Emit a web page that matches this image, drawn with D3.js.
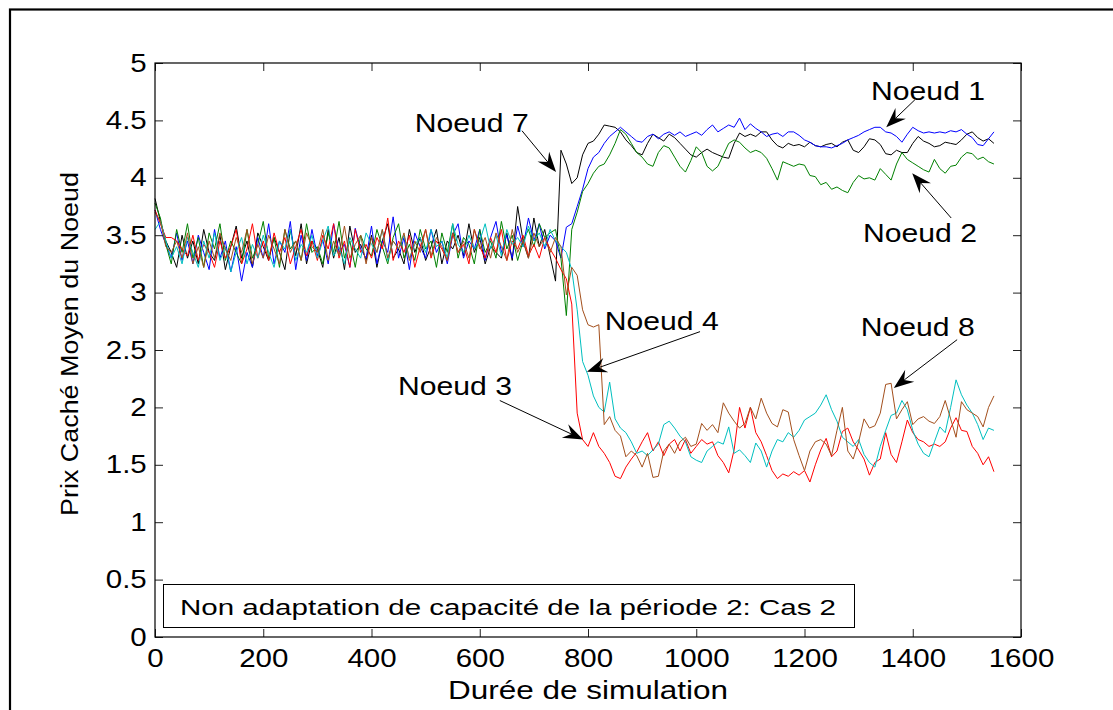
<!DOCTYPE html>
<html><head><meta charset="utf-8">
<script src="https://cdn.jsdelivr.net/npm/d3@7"></script>
<style>body{margin:0;background:#fff} text{font-family:"Liberation Sans",Arial,Helvetica,sans-serif}</style>
</head><body><svg id="c" width="1113" height="710"></svg>
<script>
// sampling step of the simulation time axis
const xStep = 10;

const noeud1 = [
3.72,3.55,3.42,3.30,3.52,3.28,3.45,3.25,3.50,3.35,
3.20,3.55,3.30,3.45,3.18,3.40,3.10,3.35,3.22,3.48,
3.30,3.60,3.25,3.45,3.35,3.62,3.20,3.50,3.28,3.55,
3.32,3.46,3.25,3.60,3.35,3.42,3.22,3.56,3.38,3.30,
3.58,3.25,3.45,3.35,3.66,3.30,3.48,3.20,3.52,3.40,
3.30,3.55,3.35,3.45,3.25,3.50,3.60,3.30,3.45,3.38,
3.55,3.28,3.48,3.62,3.35,3.50,3.30,3.58,3.40,3.65,
3.45,3.60,3.38,3.50,3.45,3.30,3.57,3.60,3.75,3.90,
4.08,4.18,4.22,4.30,4.36,4.40,4.44,4.40,4.36,4.32,
4.31,4.36,4.38,4.34,4.38,4.40,4.37,4.40,4.36,4.38,
4.40,4.37,4.42,4.46,4.40,4.43,4.46,4.44,4.52,4.42,
4.47,4.43,4.40,4.36,4.38,4.39,4.36,4.40,4.40,4.37,
4.33,4.31,4.28,4.27,4.27,4.26,4.28,4.30,4.33,4.35,
4.37,4.40,4.42,4.44,4.44,4.40,4.39,4.36,4.31,4.38,
4.44,4.41,4.39,4.40,4.39,4.40,4.39,4.41,4.40,4.42,
4.38,4.35,4.29,4.28,4.34,4.40];

const noeud7 = [
3.82,3.62,3.45,3.35,3.22,3.50,3.30,3.45,3.25,3.55,
3.35,3.28,3.50,3.20,3.40,3.58,3.30,3.45,3.22,3.52,
3.40,3.28,3.48,3.35,3.20,3.55,3.32,3.60,3.25,3.45,
3.38,3.22,3.55,3.30,3.48,3.20,3.58,3.35,3.42,3.28,
3.50,3.22,3.45,3.60,3.30,3.38,3.25,3.55,3.35,3.48,
3.28,3.40,3.55,3.25,3.45,3.38,3.50,3.32,3.60,3.35,
3.48,3.25,3.40,3.35,3.30,3.52,3.28,3.75,3.45,3.30,
3.65,3.40,3.55,3.32,3.10,4.24,4.12,3.95,4.00,4.20,
4.30,4.32,4.38,4.46,4.45,4.44,4.40,4.33,4.28,4.22,
4.20,4.30,4.38,4.35,4.32,4.38,4.35,4.30,4.25,4.20,
4.18,4.22,4.25,4.22,4.20,4.18,4.17,4.30,4.39,4.36,
4.38,4.36,4.40,4.40,4.33,4.28,4.26,4.30,4.28,4.29,
4.27,4.31,4.28,4.27,4.29,4.30,4.27,4.31,4.33,4.24,
4.22,4.27,4.34,4.33,4.29,4.21,4.20,4.24,4.22,4.22,
4.30,4.36,4.32,4.30,4.27,4.28,4.31,4.30,4.29,4.33,
4.38,4.40,4.35,4.32,4.34,4.30];

const noeud2 = [
3.78,3.65,3.42,3.25,3.55,3.35,3.60,3.30,3.48,3.22,
3.52,3.38,3.60,3.28,3.45,3.35,3.25,3.55,3.30,3.42,
3.62,3.30,3.48,3.22,3.55,3.38,3.45,3.28,3.60,3.35,
3.40,3.25,3.52,3.35,3.62,3.30,3.45,3.22,3.50,3.38,
3.32,3.55,3.40,3.25,3.48,3.60,3.30,3.42,3.28,3.55,
3.38,3.45,3.22,3.52,3.35,3.60,3.30,3.48,3.42,3.25,
3.55,3.35,3.45,3.30,3.62,3.38,3.50,3.28,3.45,3.55,
3.40,3.60,3.48,3.52,3.55,3.30,2.80,3.55,3.70,3.88,
3.95,4.04,4.10,4.12,4.20,4.30,4.42,4.38,4.30,4.22,
4.18,4.12,4.10,4.22,4.28,4.26,4.18,4.10,4.05,4.15,
4.27,4.22,4.10,4.06,4.10,4.20,4.30,4.33,4.31,4.26,
4.22,4.24,4.22,4.17,4.08,3.98,4.14,4.12,4.10,4.12,
4.11,4.02,4.01,3.94,3.96,3.90,3.92,3.89,3.87,3.96,
4.02,3.99,4.00,3.98,4.08,4.03,3.98,4.12,4.22,4.16,
4.13,4.10,4.07,4.05,4.16,4.08,4.04,4.10,4.11,4.18,
4.22,4.21,4.16,4.18,4.14,4.12];

const noeud3 = [
3.72,3.60,3.48,3.48,3.45,3.38,3.32,3.50,3.28,3.42,
3.35,3.22,3.45,3.30,3.40,3.55,3.25,3.38,3.60,3.30,
3.45,3.28,3.52,3.35,3.48,3.25,3.40,3.55,3.32,3.45,
3.28,3.50,3.38,3.60,3.30,3.45,3.22,3.55,3.35,3.42,
3.30,3.48,3.38,3.65,3.28,3.45,3.35,3.50,3.22,3.40,
3.55,3.30,3.45,3.38,3.28,3.52,3.35,3.42,3.25,3.55,
3.40,3.30,3.48,3.35,3.55,3.28,3.45,3.38,3.50,3.32,
3.42,3.30,3.48,3.38,3.30,3.20,3.12,2.90,1.95,1.72,
1.66,1.78,1.66,1.60,1.52,1.40,1.38,1.48,1.55,1.61,
1.70,1.78,1.62,1.70,1.58,1.68,1.72,1.62,1.72,1.60,
1.66,1.72,1.68,1.70,1.58,1.52,1.43,1.63,2.00,1.82,
2.00,1.78,1.70,1.58,1.45,1.38,1.42,1.40,1.44,1.41,
1.45,1.35,1.50,1.63,1.73,1.57,1.62,1.79,1.82,1.70,
1.63,1.55,1.41,1.52,1.55,1.78,1.59,1.52,1.70,1.89,
1.78,1.72,1.70,1.66,1.68,1.66,1.70,1.82,1.91,1.80,
1.79,1.66,1.60,1.50,1.57,1.44];

const noeud4 = [
3.55,3.62,3.45,3.30,3.40,3.25,3.48,3.35,3.22,3.45,
3.30,3.52,3.28,3.40,3.18,3.35,3.48,3.25,3.42,3.30,
3.50,3.35,3.22,3.45,3.38,3.55,3.28,3.42,3.35,3.50,
3.30,3.45,3.58,3.32,3.40,3.25,3.48,3.38,3.30,3.52,
3.42,3.35,3.55,3.28,3.45,3.38,3.50,3.30,3.42,3.48,
3.35,3.55,3.40,3.45,3.30,3.60,3.42,3.35,3.50,3.38,
3.45,3.60,3.38,3.50,3.32,3.55,3.42,3.48,3.40,3.58,
3.45,3.52,3.40,3.55,3.45,3.40,3.35,3.20,2.85,2.40,
2.28,2.10,2.00,1.96,2.22,1.90,1.82,1.78,1.70,1.60,
1.62,1.58,1.63,1.68,1.85,1.88,1.82,1.75,1.70,1.57,
1.54,1.52,1.62,1.66,1.70,1.68,1.83,1.60,1.63,1.58,
1.52,1.69,1.62,1.48,1.62,1.72,1.70,1.78,1.74,1.80,
1.89,1.92,1.95,2.02,2.11,1.98,1.88,1.74,1.70,1.66,
1.72,1.59,1.52,1.48,1.66,1.80,1.93,1.95,2.06,1.98,
1.80,1.68,1.60,1.57,1.70,1.83,1.78,2.00,2.24,2.11,
2.02,1.95,1.85,1.72,1.82,1.80];

const noeud8 = [
3.70,3.62,3.40,3.35,3.45,3.30,3.52,3.25,3.40,3.22,
3.45,3.30,3.52,3.38,3.28,3.48,3.35,3.55,3.25,3.42,
3.30,3.50,3.38,3.25,3.55,3.35,3.45,3.28,3.52,3.40,
3.35,3.55,3.28,3.45,3.32,3.58,3.30,3.42,3.50,3.25,
3.48,3.35,3.55,3.30,3.45,3.38,3.52,3.28,3.45,3.35,
3.55,3.32,3.48,3.40,3.28,3.52,3.35,3.45,3.30,3.55,
3.38,3.48,3.30,3.52,3.40,3.28,3.55,3.35,3.45,3.30,
3.52,3.40,3.48,3.35,3.48,3.40,2.98,3.22,3.15,2.85,
2.72,2.70,2.72,1.85,1.92,1.80,1.75,1.57,1.62,1.58,
1.48,1.60,1.39,1.40,1.62,1.68,1.60,1.70,1.74,1.66,
1.68,1.86,1.80,1.85,1.78,2.04,1.95,1.88,1.82,1.86,
2.00,1.90,2.08,1.95,1.86,1.83,1.98,1.96,1.72,1.58,
1.45,1.62,1.70,1.72,1.68,1.58,1.80,2.00,1.62,1.55,
1.70,1.90,1.82,1.84,1.95,2.20,2.21,1.90,1.98,2.05,
1.85,1.90,1.92,1.88,1.86,1.92,2.06,1.90,1.74,2.05,
1.98,1.95,1.92,1.83,2.00,2.10];

const xTicks = [0,200,400,600,800,1000,1200,1400,1600];
const yTicks = [0,0.5,1,1.5,2,2.5,3,3.5,4,4.5,5];
const yTickLabels = ["0","0.5","1","1.5","2","2.5","3","3.5","4","4.5","5"];
const xLabel = "Durée de simulation";
const yLabel = "Prix Caché Moyen du Noeud";
const boxText = "Non adaptation de capacité de la période 2: Cas 2";

// annotation labels, in data units: text anchor, arrow tail, arrow tip
const annotations = [
  {label:"Noeud 1", tx:1323, ty:4.68, ax:1404, ay:4.68, hx:1351, hy:4.44},
  {label:"Noeud 7", tx:480,  ty:4.40, ax:678,  ay:4.41, hx:741,  hy:4.05},
  {label:"Noeud 2", tx:1308, ty:3.44, ax:1471, ay:3.65, hx:1399, hy:4.04},
  {label:"Noeud 4", tx:831,  ty:2.67, ax:1007, ay:2.66, hx:798,  hy:2.31},
  {label:"Noeud 3", tx:449,  ty:2.11, ax:637,  ay:2.06, hx:791,  hy:1.72},
  {label:"Noeud 8", tx:1304, ty:2.62, ax:1482, ay:2.59, hx:1365, hy:2.17}
];

const series = [
  {name:"Noeud 7", values:noeud7, color:"#000000"},
  {name:"Noeud 1", values:noeud1, color:"#0000ff"},
  {name:"Noeud 2", values:noeud2, color:"#008000"},
  {name:"Noeud 3", values:noeud3, color:"#ff0000"},
  {name:"Noeud 4", values:noeud4, color:"#00bfbf"},
  {name:"Noeud 8", values:noeud8, color:"#a34f1c"}
];

const svg = d3.select("#c");
const L = 155, T = 63, R = 1021, B = 637;
const x = d3.scaleLinear().domain([0,1600]).range([L,R]);
const y = d3.scaleLinear().domain([0,5]).range([B,T]);

// outer frame
svg.append("rect").attr("x",10).attr("y",9.5).attr("width",1200).attr("height",800)
  .attr("fill","none").attr("stroke","#000").attr("stroke-width",2.2);

// lines
const line = d3.line().x((d,i)=>x(i*xStep)).y(d=>y(d));
svg.append("g").selectAll("path").data(series).join("path")
  .attr("d",d=>line(d.values)).attr("fill","none")
  .attr("stroke",d=>d.color).attr("stroke-width",1).attr("stroke-linejoin","round");

// axes
const fnt = "'Liberation Sans',Arial,Helvetica,sans-serif";
function styleAxis(g){
  g.select(".domain").remove();
  g.selectAll(".tick line").attr("stroke","#222");
  g.attr("font-size",25).attr("font-family",fnt);
  g.selectAll("text").attr("fill","#000");
}
const gx = svg.append("g").attr("transform",`translate(0,${B})`)
  .call(d3.axisBottom(x).tickValues(xTicks).tickSizeInner(-8).tickSizeOuter(0).tickPadding(12).tickFormat(d=>String(d)));
styleAxis(gx);
gx.selectAll("text").attr("transform","scale(1.18,1)");
const gy = svg.append("g").attr("transform",`translate(${L},0)`)
  .call(d3.axisLeft(y).tickValues(yTicks).tickSizeInner(-8).tickSizeOuter(0).tickPadding(7).tickFormat((d,i)=>yTickLabels[i]));
styleAxis(gy);
gy.selectAll("text").attr("transform","scale(1.18,1)");
const gt = svg.append("g").attr("transform",`translate(0,${T})`)
  .call(d3.axisTop(x).tickValues(xTicks).tickSizeInner(-8).tickSizeOuter(0).tickFormat(""));
styleAxis(gt);
const gr = svg.append("g").attr("transform",`translate(${R},0)`)
  .call(d3.axisRight(y).tickValues(yTicks).tickSizeInner(-8).tickSizeOuter(0).tickFormat(""));
styleAxis(gr);

// plot box
svg.append("rect").attr("x",L).attr("y",T).attr("width",R-L).attr("height",B-T)
  .attr("fill","none").attr("stroke","#000").attr("stroke-width",1.2);

// axis labels
svg.append("text").attr("x",(L+R)/2).attr("y",699).attr("text-anchor","middle")
  .attr("font-size",26).attr("textLength",280).attr("lengthAdjust","spacingAndGlyphs").text(xLabel);
svg.append("text").attr("transform","translate(78,344) rotate(-90)").attr("text-anchor","middle")
  .attr("font-size",23).attr("textLength",344).attr("lengthAdjust","spacingAndGlyphs").text(yLabel);

// annotations
const ann = svg.append("g");
annotations.forEach(a=>{
  ann.append("text").attr("x",x(a.tx)).attr("y",y(a.ty)).attr("font-size",26)
    .attr("textLength",114).attr("lengthAdjust","spacingAndGlyphs").text(a.label);
  const x0=x(a.ax), y0=y(a.ay), x1=x(a.hx), y1=y(a.hy);
  const dx=x1-x0, dy=y1-y0, len=Math.hypot(dx,dy), ux=dx/len, uy=dy/len, nx=-uy, ny=ux;
  const HL=20, HW=7.5, NT=13;
  ann.append("line").attr("x1",x0).attr("y1",y0).attr("x2",x1-ux*NT).attr("y2",y1-uy*NT)
    .attr("stroke","#000").attr("stroke-width",1);
  const pts=[[x1,y1],[x1-ux*HL+nx*HW,y1-uy*HL+ny*HW],[x1-ux*NT,y1-uy*NT],[x1-ux*HL-nx*HW,y1-uy*HL-ny*HW]];
  ann.append("path").attr("d","M"+pts.map(p=>p.join(",")).join("L")+"Z").attr("fill","#000");
});

// text box
svg.append("rect").attr("x",163.5).attr("y",584.5).attr("width",691).attr("height",43)
  .attr("fill","#fff").attr("stroke","#000").attr("stroke-width",1);
svg.append("text").attr("x",180).attr("y",615).attr("font-size",22)
  .attr("textLength",656).attr("lengthAdjust","spacingAndGlyphs").text(boxText);
</script></body></html>
